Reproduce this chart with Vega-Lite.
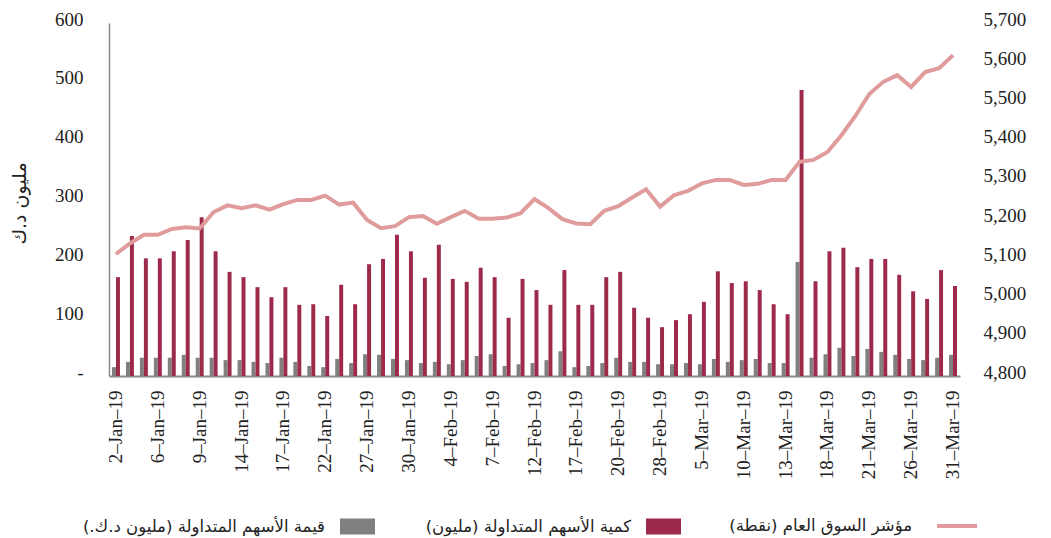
{
  "$schema": "https://vega.github.io/schema/vega-lite/v6.json",
  "width": 851,
  "height": 353,
  "autosize": {"type": "none"},
  "padding": {"left": 109, "top": 23, "right": 91, "bottom": 162},
  "background": "white",
  "config": {
    "view": {"stroke": null},
    "font": "Liberation Serif",
    "axis": {"grid": false, "ticks": false, "labelColor": "#222", "labelFont": "Liberation Serif", "labelFontSize": 19, "titleColor": "#222"}
  },
  "data": {"values": [
    {"d": "2–Jan–19", "val": 15, "qty": 168, "idx": 5111},
    {"d": "3–Jan–19", "val": 24, "qty": 238, "idx": 5138},
    {"d": "5–Jan–19", "val": 31, "qty": 200, "idx": 5160},
    {"d": "6–Jan–19", "val": 31, "qty": 200, "idx": 5160},
    {"d": "7–Jan–19", "val": 31, "qty": 212, "idx": 5175},
    {"d": "8–Jan–19", "val": 36, "qty": 231, "idx": 5179},
    {"d": "9–Jan–19", "val": 31, "qty": 270, "idx": 5176},
    {"d": "10–Jan–19", "val": 31, "qty": 212, "idx": 5218},
    {"d": "13–Jan–19", "val": 27, "qty": 177, "idx": 5235},
    {"d": "14–Jan–19", "val": 27, "qty": 168, "idx": 5228},
    {"d": "15–Jan–19", "val": 24, "qty": 151, "idx": 5235},
    {"d": "16–Jan–19", "val": 22, "qty": 134, "idx": 5224},
    {"d": "17–Jan–19", "val": 31, "qty": 151, "idx": 5238},
    {"d": "20–Jan–19", "val": 24, "qty": 121, "idx": 5249},
    {"d": "21–Jan–19", "val": 17, "qty": 122, "idx": 5249},
    {"d": "22–Jan–19", "val": 15, "qty": 102, "idx": 5260},
    {"d": "23–Jan–19", "val": 29, "qty": 155, "idx": 5237},
    {"d": "24–Jan–19", "val": 22, "qty": 122, "idx": 5242},
    {"d": "27–Jan–19", "val": 37, "qty": 190, "idx": 5198},
    {"d": "28–Jan–19", "val": 36, "qty": 199, "idx": 5177},
    {"d": "29–Jan–19", "val": 29, "qty": 240, "idx": 5182},
    {"d": "30–Jan–19", "val": 27, "qty": 212, "idx": 5205},
    {"d": "31–Jan–19", "val": 22, "qty": 167, "idx": 5208},
    {"d": "3–Feb–19", "val": 24, "qty": 223, "idx": 5188},
    {"d": "4–Feb–19", "val": 20, "qty": 165, "idx": 5205},
    {"d": "5–Feb–19", "val": 27, "qty": 160, "idx": 5221},
    {"d": "6–Feb–19", "val": 34, "qty": 184, "idx": 5201},
    {"d": "7–Feb–19", "val": 37, "qty": 168, "idx": 5201},
    {"d": "10–Feb–19", "val": 17, "qty": 99, "idx": 5204},
    {"d": "11–Feb–19", "val": 20, "qty": 165, "idx": 5215},
    {"d": "12–Feb–19", "val": 22, "qty": 146, "idx": 5251},
    {"d": "13–Feb–19", "val": 27, "qty": 121, "idx": 5228},
    {"d": "14–Feb–19", "val": 42, "qty": 180, "idx": 5200},
    {"d": "17–Feb–19", "val": 15, "qty": 121, "idx": 5189},
    {"d": "18–Feb–19", "val": 17, "qty": 121, "idx": 5187},
    {"d": "19–Feb–19", "val": 22, "qty": 168, "idx": 5221},
    {"d": "20–Feb–19", "val": 31, "qty": 177, "idx": 5233},
    {"d": "21–Feb–19", "val": 24, "qty": 116, "idx": 5255},
    {"d": "24–Feb–19", "val": 24, "qty": 99, "idx": 5276},
    {"d": "28–Feb–19", "val": 20, "qty": 83, "idx": 5232},
    {"d": "3–Mar–19", "val": 20, "qty": 95, "idx": 5261},
    {"d": "4–Mar–19", "val": 22, "qty": 105, "idx": 5272},
    {"d": "5–Mar–19", "val": 20, "qty": 126, "idx": 5291},
    {"d": "6–Mar–19", "val": 29, "qty": 178, "idx": 5300},
    {"d": "7–Mar–19", "val": 24, "qty": 158, "idx": 5300},
    {"d": "10–Mar–19", "val": 27, "qty": 161, "idx": 5287},
    {"d": "11–Mar–19", "val": 29, "qty": 146, "idx": 5290},
    {"d": "12–Mar–19", "val": 22, "qty": 122, "idx": 5300},
    {"d": "13–Mar–19", "val": 22, "qty": 105, "idx": 5300},
    {"d": "14–Mar–19", "val": 194, "qty": 486, "idx": 5346},
    {"d": "17–Mar–19", "val": 31, "qty": 161, "idx": 5351},
    {"d": "18–Mar–19", "val": 37, "qty": 212, "idx": 5371},
    {"d": "19–Mar–19", "val": 48, "qty": 218, "idx": 5414},
    {"d": "20–Mar–19", "val": 34, "qty": 185, "idx": 5463},
    {"d": "21–Mar–19", "val": 46, "qty": 199, "idx": 5519},
    {"d": "24–Mar–19", "val": 41, "qty": 199, "idx": 5550},
    {"d": "25–Mar–19", "val": 36, "qty": 172, "idx": 5567},
    {"d": "26–Mar–19", "val": 29, "qty": 144, "idx": 5537},
    {"d": "27–Mar–19", "val": 27, "qty": 131, "idx": 5575},
    {"d": "28–Mar–19", "val": 31, "qty": 180, "idx": 5585},
    {"d": "31–Mar–19", "val": 36, "qty": 153, "idx": 5618}
  ]},
  "encoding": {
    "x": {
      "field": "d", "type": "ordinal", "sort": null, "title": null,
      "scale": {"paddingInner": 0.43, "paddingOuter": 0.215},
      "axis": {
        "labelAngle": -90, "labelPadding": 14, "domainColor": "#8a8a8a", "domainWidth": 2,
        "values": ["2–Jan–19","6–Jan–19","9–Jan–19","14–Jan–19","17–Jan–19","22–Jan–19","27–Jan–19","30–Jan–19","4–Feb–19","7–Feb–19","12–Feb–19","17–Feb–19","20–Feb–19","28–Feb–19","5–Mar–19","10–Mar–19","13–Mar–19","18–Mar–19","21–Mar–19","26–Mar–19","31–Mar–19"]
      }
    }
  },
  "layer": [
    {
      "transform": [{"fold": ["val", "qty"], "as": ["series", "v"]}],
      "mark": {"type": "bar"},
      "encoding": {
        "xOffset": {"field": "series", "type": "nominal", "scale": {"domain": ["val", "qty"], "paddingInner": 0}},
        "y": {
          "field": "v", "type": "quantitative",
          "scale": {"domain": [0, 600], "nice": false},
          "axis": {
            "values": [0, 100, 200, 300, 400, 500, 600], "labelPadding": 26, "labelOffset": -4,
            "domainColor": "#8a8a8a", "domainWidth": 1.5,
            "labelExpr": "datum.value == 0 ? '-' : datum.label",
            "title": "مليون د.ك", "titleFont": "DejaVu Sans", "titleFontSize": 19, "titleFontWeight": "normal",
            "titleX": -90, "titleY": 180, "titleAngle": -90, "titleAlign": "center", "titleBaseline": "middle"
          }
        },
        "color": {
          "field": "series", "type": "nominal",
          "scale": {"domain": ["val", "qty"], "range": ["#808080", "#9E2A4B"]},
          "legend": {
            "orient": "none", "legendX": 231, "legendY": 486, "direction": "horizontal", "title": null,
            "symbolType": "M-1,-0.46H1V0.46H-1Z", "symbolSize": 1225, "symbolStrokeWidth": 0,
            "labelAlign": "right", "labelBaseline": "middle", "labelOffset": -50, "columnPadding": 50,
            "labelFont": "DejaVu Sans", "labelFontSize": 16.5, "labelColor": "#222", "labelLimit": 400,
            "labelExpr": "datum.value == 'val' ? 'قيمة الأسهم المتداولة (مليون د.ك.)' : 'كمية الأسهم المتداولة (مليون)'"
          }
        }
      }
    },
    {
      "mark": {"type": "line", "strokeWidth": 4, "strokeCap": "butt"},
      "encoding": {
        "x": {"field": "d", "type": "ordinal", "sort": null, "bandPosition": 0.5},
        "y": {
          "field": "idx", "type": "quantitative",
          "scale": {"domain": [4800, 5700], "nice": false},
          "axis": {
            "orient": "right", "values": [4800, 4900, 5000, 5100, 5200, 5300, 5400, 5500, 5600, 5700],
            "format": ",d", "labelPadding": 23, "labelOffset": -4, "domain": false, "title": null
          }
        },
        "stroke": {
          "datum": "line",
          "scale": {"domain": ["line"], "range": ["#E09C9C"]},
          "legend": {
            "orient": "none", "legendX": 826, "legendY": 481, "title": null,
            "symbolType": "stroke", "symbolSize": 1600, "symbolStrokeWidth": 4,
            "labelAlign": "right", "labelBaseline": "middle", "labelOffset": -67,
            "labelFont": "DejaVu Sans", "labelFontSize": 16.5, "labelColor": "#222", "labelLimit": 400,
            "labelExpr": "'مؤشر السوق العام  (نقطة)'"
          }
        }
      }
    }
  ],
  "resolve": {"scale": {"y": "independent"}}
}
